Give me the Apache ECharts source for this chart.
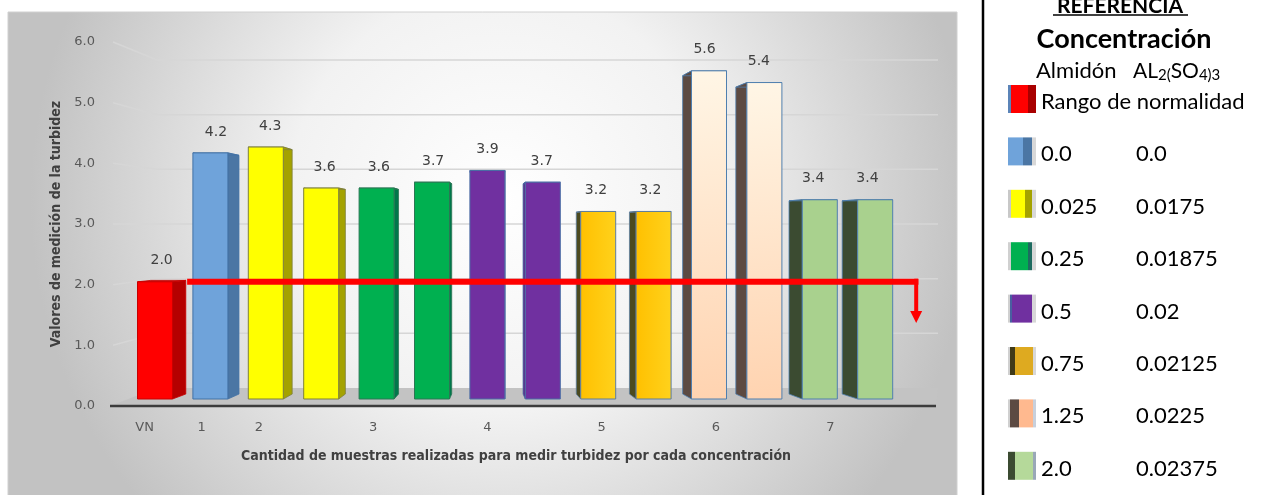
<!DOCTYPE html>
<html>
<head>
<meta charset="utf-8">
<script src="https://cdn.jsdelivr.net/npm/echarts@6/dist/echarts.min.js"></script>
<style>
html, body { margin: 0; padding: 0; background: #fff; }
#chart { width: 1266px; height: 495px; }
</style>
</head>
<body>
<div id="chart"></div>
<script>
// data
var categories = ['VN', '1', '2', '', '3', '', '4', '', '5', '', '6', '', '7', ''];
var turbidity = [2.0, 4.2, 4.3, 3.6, 3.6, 3.7, 3.9, 3.7, 3.2, 3.2, 5.6, 5.4, 3.4, 3.4];
var groupOf = [0, 1, 2, 2, 3, 3, 4, 4, 5, 5, 6, 6, 7, 7];
var almidon = ['Rango de normalidad', '0.0', '0.025', '0.25', '0.5', '0.75', '1.25', '2.0'];
var sulfato = ['', '0.0', '0.0175', '0.01875', '0.02', '0.02125', '0.0225', '0.02375'];
var yTicks = [0, 1, 2, 3, 4, 5, 6];
var normalRange = 2.0;
var normalLineX = [0.58, 13.74];
var arrowTip = 1.3;

var LG = echarts.graphic.LinearGradient;
function swatch(stops) {
    return new LG(0, 0, 1, 0, stops);
}
var looks = [
    {front: '#ff0000', side: '#b50000', stroke: '#c80000',
     legend: swatch([{offset: 0, color: '#5b84b8'}, {offset: 0.1, color: '#5b84b8'}, {offset: 0.1, color: '#ff0000'}, {offset: 0.7, color: '#ff0000'}, {offset: 0.7, color: '#a80000'}, {offset: 1, color: '#a80000'}])},
    {front: '#6fa3da', side: '#4b76a4', stroke: '#4272a6',
     legend: swatch([{offset: 0, color: '#6fa3da'}, {offset: 0.55, color: '#6fa3da'}, {offset: 0.55, color: '#4b76a4'}, {offset: 0.85, color: '#4b76a4'}, {offset: 0.85, color: '#d8d8d8'}, {offset: 1, color: '#d8d8d8'}])},
    {front: '#ffff00', side: '#a4a200', stroke: '#7d7f3c',
     legend: swatch([{offset: 0, color: '#c8c8c8'}, {offset: 0.1, color: '#c8c8c8'}, {offset: 0.1, color: '#ffff00'}, {offset: 0.6, color: '#ffff00'}, {offset: 0.6, color: '#a4a200'}, {offset: 0.85, color: '#a4a200'}, {offset: 0.85, color: '#d8d8d8'}, {offset: 1, color: '#d8d8d8'}])},
    {front: '#00b050', side: '#00774a', stroke: '#2b7654',
     legend: swatch([{offset: 0, color: '#d0d0d0'}, {offset: 0.1, color: '#d0d0d0'}, {offset: 0.1, color: '#00b050'}, {offset: 0.7, color: '#00b050'}, {offset: 0.7, color: '#1e6b60'}, {offset: 0.85, color: '#1e6b60'}, {offset: 0.85, color: '#d8d8d8'}, {offset: 1, color: '#d8d8d8'}])},
    {front: '#7030a0', side: '#5a2585', stroke: '#4a6fa5',
     legend: swatch([{offset: 0, color: '#d0d0d0'}, {offset: 0.08, color: '#d0d0d0'}, {offset: 0.08, color: '#4a5fa0'}, {offset: 0.16, color: '#4a5fa0'}, {offset: 0.16, color: '#7030a0'}, {offset: 0.85, color: '#7030a0'}, {offset: 0.85, color: '#d8d8d8'}, {offset: 1, color: '#d8d8d8'}])},
    {front: new LG(0, 0, 1, 0, [{offset: 0, color: '#ffc000'}, {offset: 1, color: '#ffd21c'}]), side: '#4b4a1f', stroke: '#5d7da0',
     legend: swatch([{offset: 0, color: '#d0d0d0'}, {offset: 0.08, color: '#d0d0d0'}, {offset: 0.08, color: '#3f3a18'}, {offset: 0.25, color: '#3f3a18'}, {offset: 0.25, color: '#deaa20'}, {offset: 0.9, color: '#deaa20'}, {offset: 0.9, color: '#d8d8d8'}, {offset: 1, color: '#d8d8d8'}])},
    {front: new LG(0, 0, 1, 1, [{offset: 0, color: '#fff6e6'}, {offset: 1, color: '#ffd3b0'}]), side: '#5c4a42', stroke: '#4f7faf',
     legend: swatch([{offset: 0, color: '#d0d0d0'}, {offset: 0.08, color: '#d0d0d0'}, {offset: 0.08, color: '#5c4a42'}, {offset: 0.4, color: '#5c4a42'}, {offset: 0.4, color: '#ffb98f'}, {offset: 0.88, color: '#ffb98f'}, {offset: 0.88, color: '#c8d0dc'}, {offset: 1, color: '#c8d0dc'}])},
    {front: '#a9d18e', side: '#3b4b31', stroke: '#4f7faf',
     legend: swatch([{offset: 0, color: '#3b4b31'}, {offset: 0.25, color: '#3b4b31'}, {offset: 0.25, color: '#b5d99a'}, {offset: 0.9, color: '#b5d99a'}, {offset: 0.9, color: '#9aa8b8'}, {offset: 1, color: '#9aa8b8'}])}
];

var chart = echarts.init(document.getElementById('chart'));

function renderWall(params, api) {
    var v = api.value(0);
    var cs = params.coordSys;
    var back = api.coord([0, v]);
    var front = api.coord([0, -0.3293 + 1.1098 * v]);
    var xl = cs.x, xf = cs.x - 44, xr = cs.x + cs.width;
    if (v === 0) {
        return {
            type: 'group',
            children: [
                {type: 'polygon', shape: {points: [[xf - 3, front[1]], [xr - 2, front[1]], [xr, back[1]], [xl, back[1]]]},
                 style: {fill: '#c3c3c3'}},
                {type: 'line', shape: {x1: xf - 3, y1: front[1], x2: xr - 2, y2: front[1]},
                 style: {stroke: '#3c3c3c', lineWidth: 2.5}}
            ]
        };
    }
    return {
        type: 'polyline',
        shape: {points: [[xf, front[1]], [xl, back[1]], [xr, back[1]]]},
        style: {stroke: '#d6d6d6', lineWidth: 1.5, fill: null}
    };
}

function renderBar(params, api) {
    var i = api.value(0), v = api.value(1);
    var st = looks[groupOf[i]];
    var top = api.coord([i, v]);
    var base = api.coord([i, 0]);
    var topBack = api.coord([i, 0.188 + 0.933 * v]);
    var baseBack = api.coord([i, 0.188]);
    var mid = api.coord([6, 0])[0];
    var hw = 17.5;
    var dx = (mid - top[0]) * 0.04;
    var dyT = (topBack[1] - top[1]) * 0.45;
    var dyB = (baseBack[1] - base[1]) * 0.45;
    var x0 = top[0] - hw, x1 = top[0] + hw;
    var edge = dx >= 0 ? x1 : x0;
    return {
        type: 'group',
        children: [
            {type: 'polygon', shape: {points: [[edge, top[1]], [edge + dx, top[1] + dyT], [edge + dx, base[1] + dyB], [edge, base[1]]]},
             style: {fill: st.side, stroke: st.stroke, lineWidth: 0.8}},
            {type: 'polygon', shape: {points: [[x0, top[1]], [x1, top[1]], [x1 + dx, top[1] + dyT], [x0 + dx, top[1] + dyT]]},
             style: {fill: st.side, stroke: st.stroke, lineWidth: 0.8}},
            {type: 'rect', shape: {x: x0, y: top[1], width: hw * 2, height: base[1] - top[1]},
             style: {fill: st.front, stroke: st.stroke, lineWidth: 1}},
            {type: 'text', style: {text: v.toFixed(1), x: top[0] + dx / 2, y: top[1] - 21, align: 'center', verticalAlign: 'middle',
             fontSize: 14, fontFamily: 'DejaVu Sans', fill: '#404040'}}
        ]
    };
}

var series = [{
    type: 'custom',
    name: 'wall',
    xAxisIndex: 3,
    yAxisIndex: 2,
    z: 1,
    silent: true,
    clip: false,
    renderItem: renderWall,
    data: yTicks.map(function (t) { return [t]; })
}];

almidon.forEach(function (name, g) {
    var pts = [];
    turbidity.forEach(function (v, i) {
        if (groupOf[i] === g) pts.push([i, v]);
    });
    series.push({
        type: 'custom',
        name: name,
        xAxisIndex: 1,
        yAxisIndex: 1,
        z: 3,
        clip: false,
        itemStyle: {color: looks[g].legend},
        renderItem: renderBar,
        encode: {x: 0, y: 1},
        data: pts
    });
});

// normal range line, ending in a down arrow (on a grid that is one category wider)
series.push({
    type: 'line',
    name: 'normal',
    xAxisIndex: 2,
    yAxisIndex: 3,
    z: 6,
    symbol: 'none',
    silent: true,
    lineStyle: {color: '#ff0000', width: 6, cap: 'butt', join: 'miter'},
    data: [[normalLineX[0], normalRange], [normalLineX[1] + 0.04, normalRange]]
});
series.push({
    type: 'line',
    name: 'arrow',
    xAxisIndex: 2,
    yAxisIndex: 3,
    z: 6,
    silent: true,
    showSymbol: true,
    itemStyle: {color: '#ff0000'},
    lineStyle: {color: '#ff0000', width: 4, cap: 'butt'},
    data: [
        {value: [normalLineX[1], normalRange + 0.05], symbol: 'none'},
        {value: [normalLineX[1], arrowTip + 0.1], symbol: 'triangle', symbolSize: [12, 12], symbolRotate: 180}
    ]
});

var axisNameFont = {fontFamily: 'DejaVu Sans Condensed', fontWeight: 'bold', fontSize: 14, color: '#404040'};

var option = {
    backgroundColor: '#ffffff',
    animation: false,
    grid: [
        {left: 116, top: 42, width: 800, height: 364},
        {left: 127.3, top: 47.4, width: 775.6, height: 351.6},
        {left: 157, top: 60, width: 781, height: 328},
        {left: 127.3, top: 47.4, width: 831, height: 351.6}
    ],
    xAxis: [
        {gridIndex: 0, type: 'category', data: categories,
         axisLine: {show: false}, axisTick: {show: false}, splitLine: {show: false},
         axisLabel: {interval: 0, margin: 15, color: '#595959', fontSize: 13, fontFamily: 'DejaVu Sans'},
         name: 'Cantidad de muestras realizadas para medir turbidez por cada concentración',
         nameLocation: 'middle', nameGap: 43, nameTextStyle: axisNameFont},
        {gridIndex: 1, type: 'category', data: categories, show: false},
        {gridIndex: 3, type: 'value', min: -0.5, max: 14.5, show: false},
        {gridIndex: 2, type: 'value', min: 0, max: 1, show: false}
    ],
    yAxis: [
        {gridIndex: 0, type: 'value', min: 0, max: 6, interval: 1,
         axisLine: {show: false}, axisTick: {show: false}, splitLine: {show: false},
         axisLabel: {margin: 21, color: '#595959', fontSize: 13, fontFamily: 'DejaVu Sans',
                     formatter: function (v) { return v.toFixed(1); }},
         name: 'Valores de medición de la turbidez', nameLocation: 'middle', nameGap: 46,
         nameTextStyle: axisNameFont},
        {gridIndex: 1, type: 'value', min: 0, max: 6, show: false},
        {gridIndex: 2, type: 'value', min: 0, max: 6, show: false},
        {gridIndex: 3, type: 'value', min: 0, max: 6, show: false}
    ],
    legend: {
        data: almidon,
        orient: 'vertical',
        left: 1003,
        top: 80,
        itemWidth: 28,
        itemHeight: 28,
        itemGap: 24.4,
        icon: 'rect',
        selectedMode: false,
        formatter: function (name) {
            var i = almidon.indexOf(name);
            return '{a|' + almidon[i] + '}{b|' + sulfato[i] + '}';
        },
        textStyle: {
            fontFamily: 'Lato', fontSize: 22, color: '#000',
            rich: {
                a: {fontFamily: 'Lato', fontSize: 22, color: '#000', width: 95, padding: [6, 0, 0, 0]},
                b: {fontFamily: 'Lato', fontSize: 22, color: '#000', padding: [6, 0, 0, 0]}
            }
        }
    },
    graphic: [
        {type: 'rect', z: -10, silent: true,
         shape: {x: 8, y: 12, width: 949, height: 495},
         style: {fill: new echarts.graphic.RadialGradient(0.52, 0.38, 0.95, [
             {offset: 0, color: '#ffffff'}, {offset: 0.45, color: '#f2f2f2'}, {offset: 1, color: '#c2c2c2'}]),
             stroke: '#d0d0d0', lineWidth: 1}},
        {type: 'line', silent: true, shape: {x1: 983, y1: 0, x2: 983, y2: 495},
         style: {stroke: '#000', lineWidth: 2.5}},
        {type: 'text', silent: true, style: {text: 'REFERENCIA', x: 1120, y: 6, align: 'center', verticalAlign: 'middle',
         fontFamily: 'Lato', fontWeight: 'bold', fontSize: 21, fill: '#000'}},
        {type: 'line', silent: true, shape: {x1: 1053, y1: 15, x2: 1188, y2: 15},
         style: {stroke: '#000', lineWidth: 1.5}},
        {type: 'text', silent: true, style: {text: 'Concentración', x: 1124, y: 39, align: 'center', verticalAlign: 'middle',
         fontFamily: 'Lato', fontWeight: 'bold', fontSize: 27, fill: '#000'}},
        {type: 'text', silent: true, style: {text: 'Almidón', x: 1036, y: 71, align: 'left', verticalAlign: 'middle',
         fontFamily: 'Lato', fontSize: 22, fill: '#000'}},
        {type: 'text', silent: true, style: {
            text: '{n|AL}{s|2(}{n|SO}{s|4)3}', x: 1133, y: 71, align: 'left', verticalAlign: 'middle',
            rich: {
                n: {fontFamily: 'Lato', fontSize: 21, fill: '#000', color: '#000'},
                s: {fontFamily: 'Lato', fontSize: 15, fill: '#000', color: '#000', padding: [8, 0, 0, 0]}
            }}}
    ],
    series: series
};
chart.setOption(option);
</script>
</body>
</html>
